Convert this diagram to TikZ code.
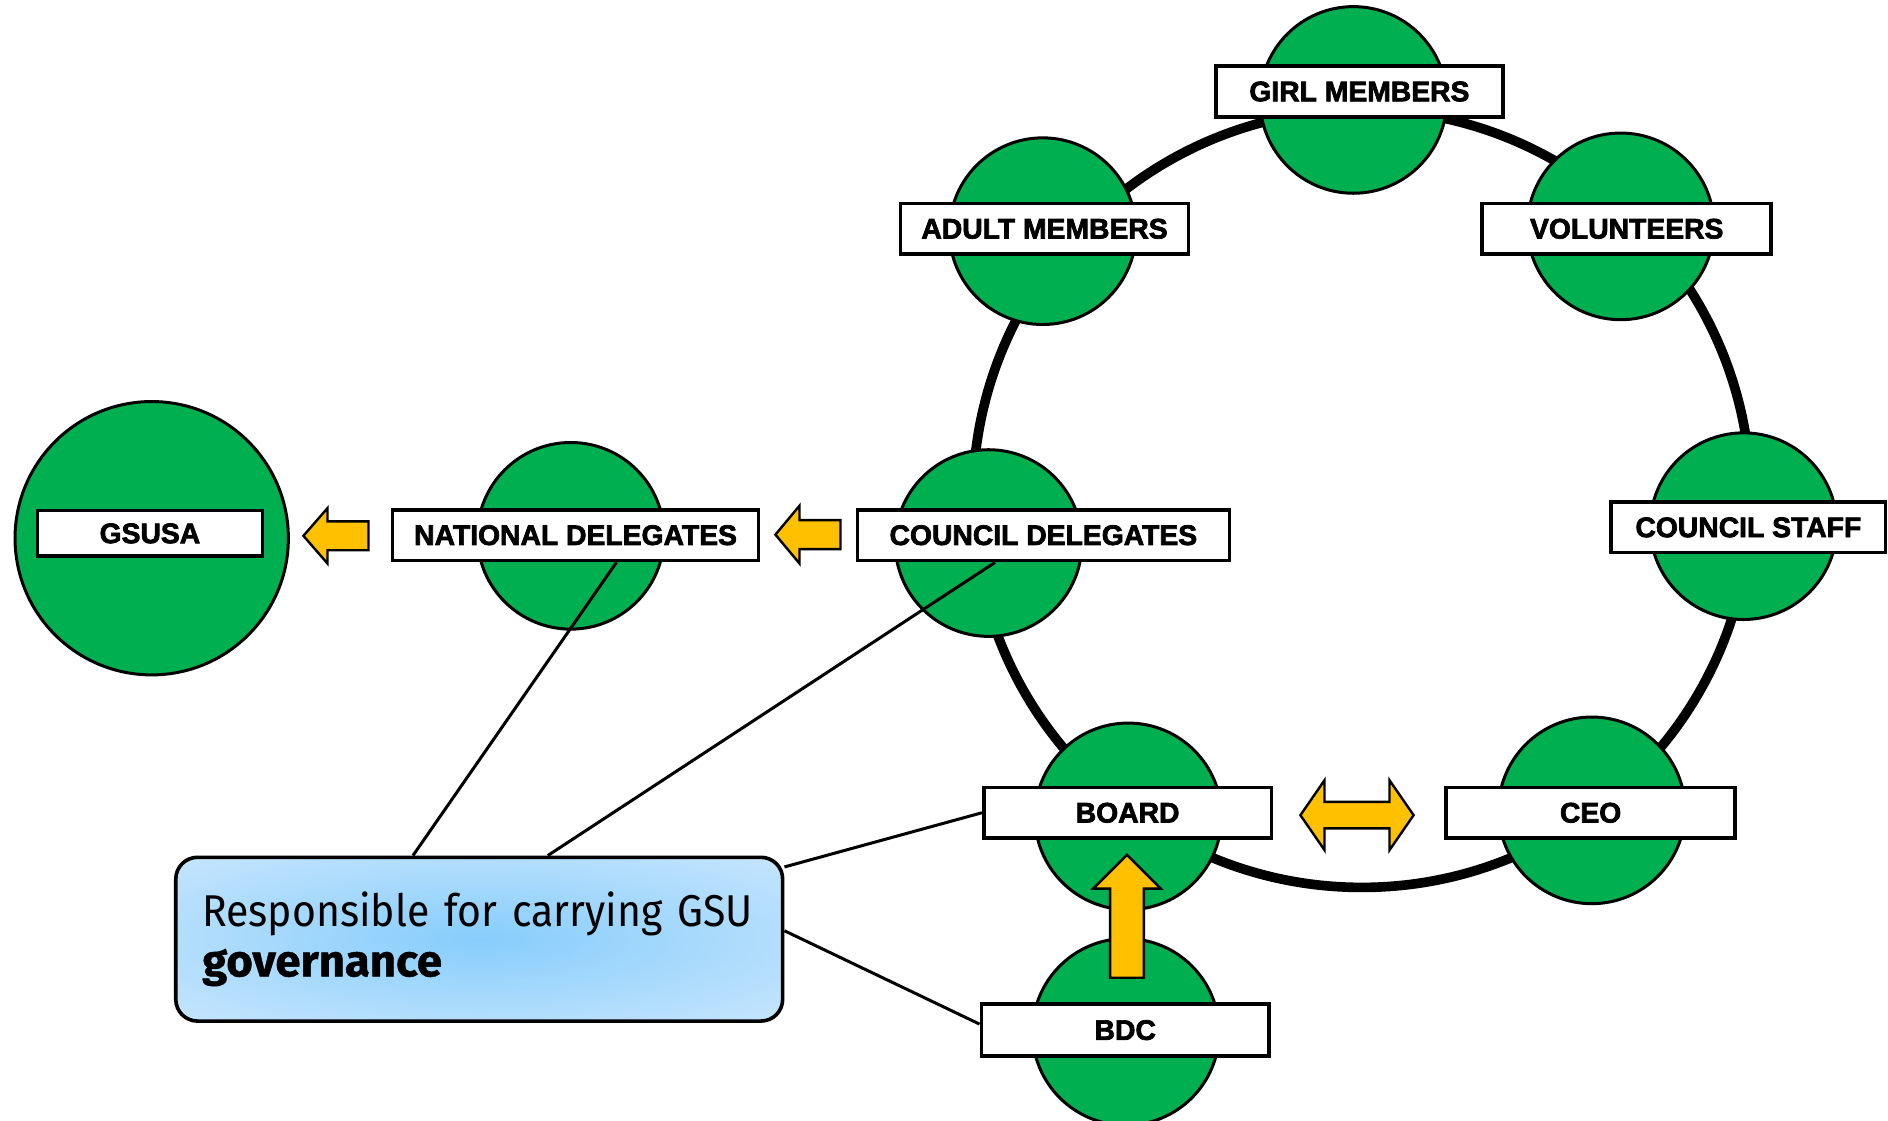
\documentclass[tikz,border=0pt]{standalone}
\usepackage{fontspec}
\newfontfamily\labfont{Liberation Sans}[BoldFeatures={FakeBold=2.5}]
\newfontfamily\callfont{Fira Sans}[UprightFeatures={FakeStretch=0.92}, BoldFeatures={FakeStretch=1.02,FakeBold=1}]
\definecolor{gr}{RGB}{0,176,80}
\definecolor{ay}{RGB}{255,192,0}
\definecolor{callin}{RGB}{135,205,252}
\definecolor{callout}{RGB}{224,239,253}
\pgfdeclareradialshading{callshade}{\pgfpoint{0bp}{0bp}}{color(0bp)=(callin); color(50bp)=(callout)}
\tikzset{
  grn/.style={circle, fill=gr, draw=black, line width=2.5pt, minimum size=155pt, inner sep=0pt},
  lab/.style={draw=black, fill=white, line width=3pt, minimum height=42pt, inner sep=0pt,
              font=\labfont\bfseries\fontsize{23.5}{26}\selectfont},
  arr/.style={fill=ay, draw=black, line width=2pt, line join=miter},
  conn/.style={draw=black, line width=2.5pt},
  callbox/.style={draw=black, line width=3pt, rounded corners=18pt, shading=callshade,
                  minimum width=504pt, minimum height=136pt, inner xsep=22pt,
                  text width=460pt, align=left,
                  font=\callfont\fontsize{37}{41}\selectfont},
}
\begin{document}
\begin{tikzpicture}[x=1pt,y=-1pt]
\useasboundingbox (0,0) rectangle (1568,931);
\fill[white] (0,0) rectangle (1568,931);
% ring
\draw[line width=8pt] (1131,414) circle[radius=323pt];
% circles
\node[grn] (cgirl) at (1124,83) {};
\node[grn] (cadult) at (866,192) {};
\node[grn] (cvol) at (1346,188) {};
\node[grn] (cstaff) at (1448,437) {};
\node[grn] (cceo) at (1322,673) {};
\node[grn] (cboard) at (937,678) {};
\node[grn] (ccdel) at (821,451) {};
\node[grn] (cnat) at (474,445) {};
\node[grn, minimum size=227pt] (cgsusa) at (126,447) {};
\node[grn] (cbdc) at (935,857) {};
% label boxes
\node[lab, minimum width=238pt] (girl) at (1129,76) {GIRL MEMBERS};
\node[lab, minimum width=239pt] (adult) at (867.5,190) {ADULT MEMBERS};
\node[lab, minimum width=240pt] (vol) at (1351,190) {VOLUNTEERS};
\node[lab, minimum width=228pt] (staff) at (1452,438) {COUNCIL STAFF};
\node[lab, minimum width=309pt] (cdel) at (866.5,444.5) {COUNCIL DELEGATES};
\node[lab, minimum width=304pt] (nat) at (478,444.5) {NATIONAL DELEGATES};
\node[lab, minimum width=187pt, minimum height=38pt] (gsusa) at (124.5,443) {GSUSA};
\node[lab, minimum width=239pt] (board) at (936.5,675) {BOARD};
\node[lab, minimum width=240pt] (ceo) at (1321,675) {CEO};
\node[lab, minimum width=239pt, minimum height=43pt] (bdc) at (934.5,855.5) {BDC};
% yellow arrows
\draw[arr] (252,445) -- (272,422) -- (272,433) -- (306,433) -- (306,457) -- (272,457) -- (272,468) -- cycle;
\draw[arr] (644,444) -- (664,420) -- (664,432) -- (698,432) -- (698,456) -- (664,456) -- (664,468) -- cycle;
\draw[arr] (1080,677) -- (1100,648) -- (1100,666) -- (1154,666) -- (1154,648) -- (1174,677)
           -- (1154,706) -- (1154,688) -- (1100,688) -- (1100,706) -- cycle;
\draw[arr] (936,710) -- (964,738) -- (950,738) -- (950,812) -- (922,812) -- (922,738) -- (908,738) -- cycle;
% callout
\node[callbox] (call) at (398,780) {Responsible for carrying GSU\\\textbf{governance}};
% connectors
\draw[conn] ([xshift=34pt]nat.south) -- ([xshift=-55pt]call.north);
\draw[conn] ([xshift=-40pt]cdel.south) -- ([xshift=57pt]call.north);
\draw[conn] ([yshift=60pt]call.east) -- (board.west);
\draw[conn] ([yshift=7pt]call.east) -- ([yshift=5pt]bdc.west);
\end{tikzpicture}
\end{document}
